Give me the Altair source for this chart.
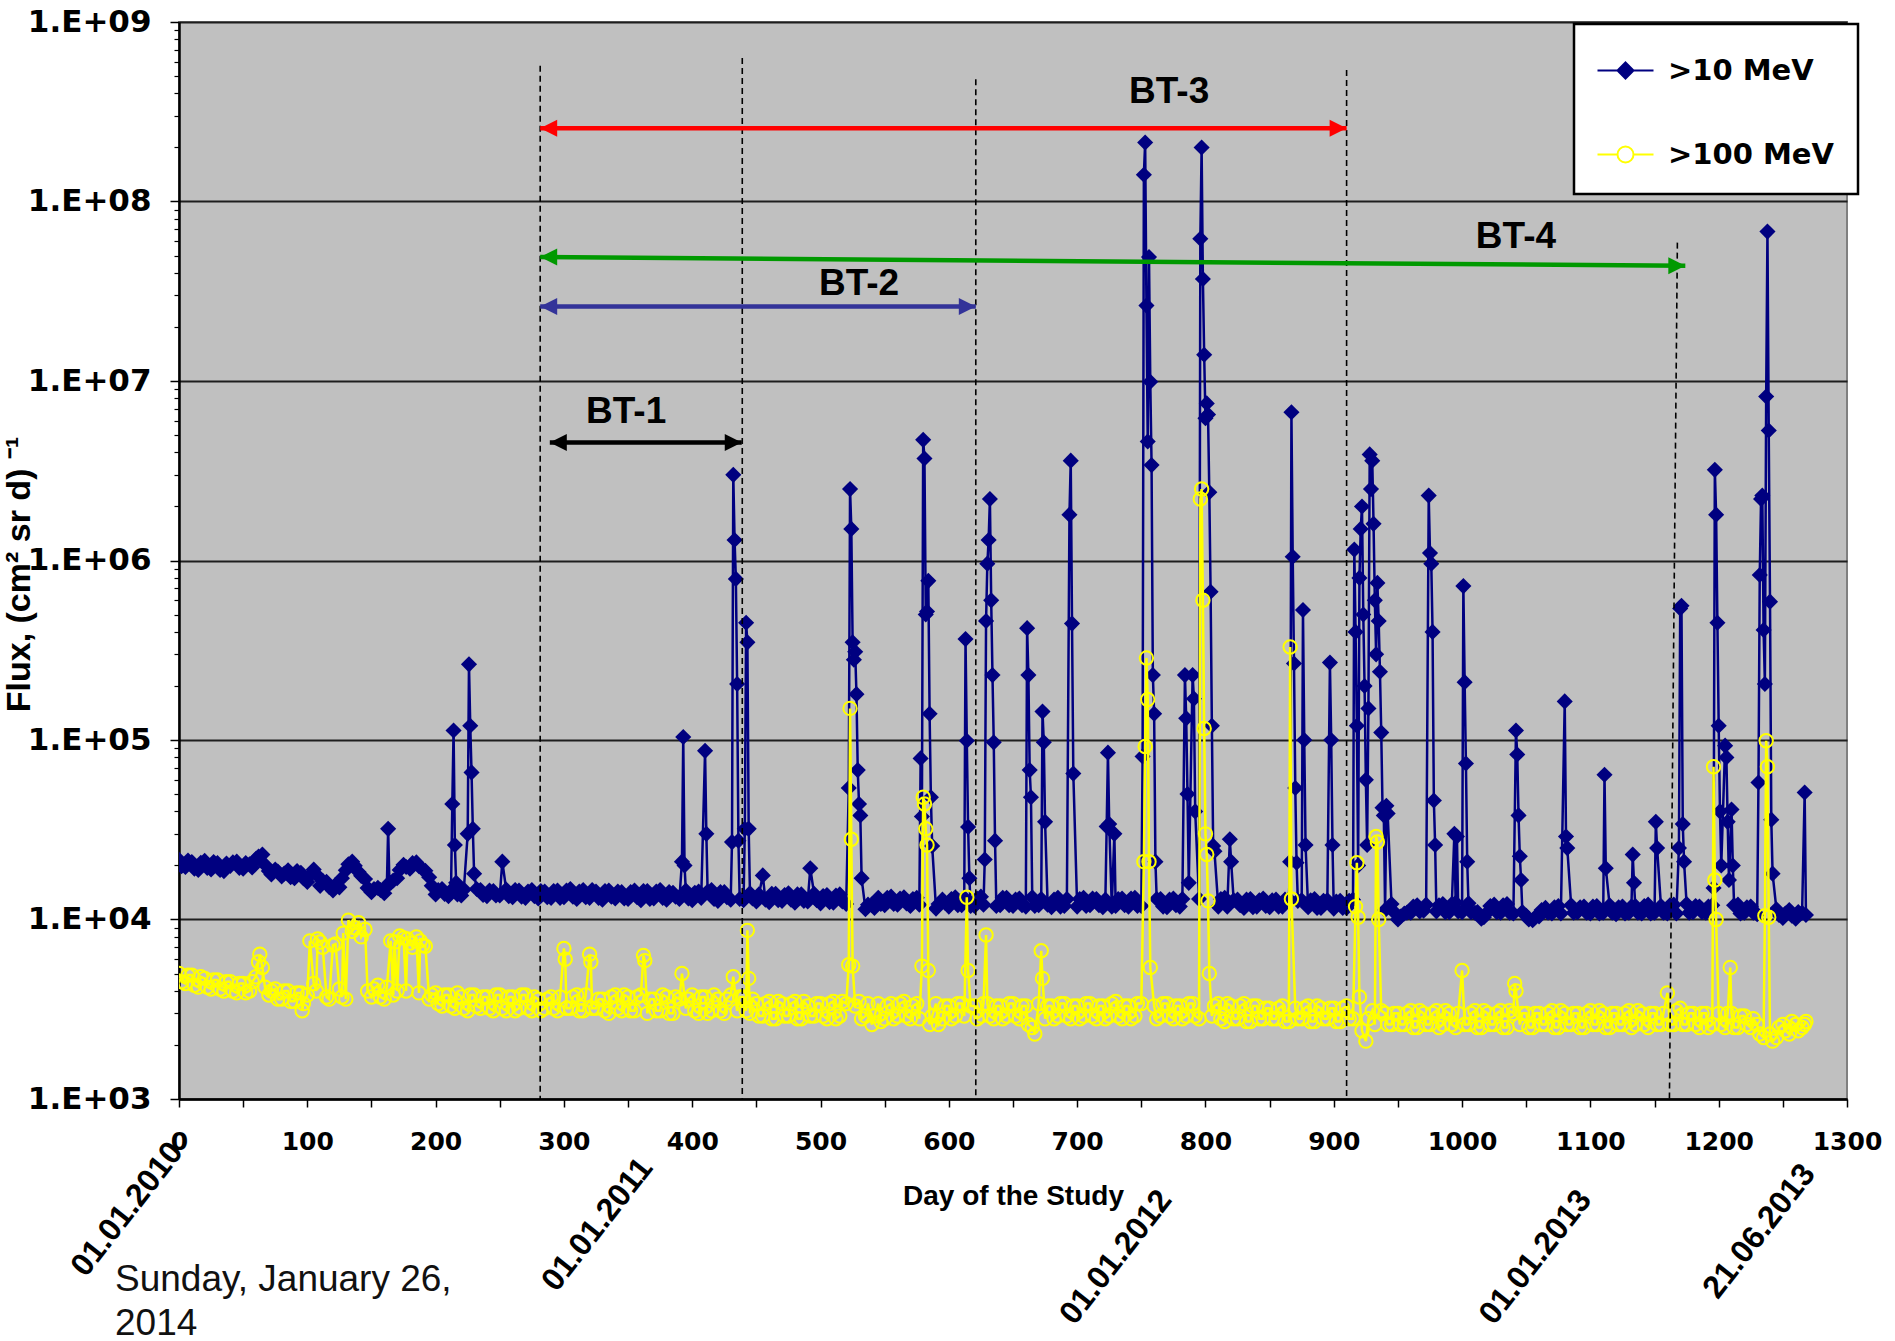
import altair as alt
import pandas as pd

# ---------------- data ----------------
SERIES = [">10 MeV", ">100 MeV"]

# quiet-time flux (thousands) read on two interleaved day grids:
# days 0, 5, ..., 1265  and  days 2, 7, ..., 1267
BASE_DAYS = list(range(0, 1270, 5))
MID_DAYS = list(range(2, 1270, 5))
base_10 = [
    21.5, 19.6, 20.9, 18.9, 21.2, 19.0, 20.6, 18.6, 19.9, 21.0,
    19.2, 20.3, 21.8, 23.0, 18.6, 19.0, 17.4, 18.8, 17.0, 18.2,
    16.2, 19.0, 15.4, 16.2, 14.5, 15.1, 18.8, 21.0, 18.4, 16.8,
    14.2, 15.0, 14.0, 16.0, 17.0, 20.2, 19.2, 20.8, 19.0, 17.2,
    13.8, 14.8, 13.5, 14.6, 13.6, 15.0, 13.4, 14.6, 13.5, 14.4,
    13.6, 14.7, 13.3, 14.5, 13.2, 14.6, 13.1, 14.3, 13.2, 14.5,
    13.3, 14.8, 13.0, 14.6, 13.2, 14.3, 12.9, 14.5, 13.1, 14.2,
    13.0, 14.5, 12.8, 14.4, 13.1, 14.6, 12.9, 14.1, 13.0, 14.5,
    12.8, 14.3, 13.0, 14.6, 12.7, 14.2, 12.9, 14.4, 12.8, 14.0,
    12.6, 14.1, 12.5, 13.9, 12.7, 14.0, 12.4, 13.8, 12.6, 13.9,
    12.3, 13.7, 12.4, 13.8, 12.2, 13.5, 12.0, 11.4, 12.1, 13.2,
    12.0, 13.4, 12.1, 13.3, 11.9, 13.2, 12.0, 11.3, 11.5, 12.9,
    11.8, 13.3, 12.0, 13.1, 11.9, 13.4, 11.8, 13.0, 12.0, 13.2,
    11.9, 13.1, 11.8, 13.3, 12.0, 13.0, 11.7, 13.2, 11.9, 13.1,
    11.8, 13.2, 12.0, 13.0, 11.7, 13.3, 11.9, 13.1, 11.8, 13.2,
    11.9, 11.6, 11.8, 13.0, 11.7, 13.1, 11.8, 13.2, 11.9, 13.0,
    11.7, 13.1, 11.8, 13.2, 11.9, 12.9, 11.6, 13.0, 11.8, 13.1,
    11.7, 12.9, 11.8, 13.0, 11.6, 12.8, 11.7, 13.0, 11.6, 12.8,
    11.5, 12.7, 11.6, 12.9, 11.4, 12.6, 11.5, 12.4, 11.3, 12.2,
    10.0, 10.8, 10.9, 12.0, 11.2, 12.3, 11.1, 12.2, 11.0, 12.4,
    11.0, 12.3, 10.9, 10.1, 11.0, 12.1, 10.9, 12.2, 10.8, 12.0,
    10.5, 9.9, 10.4, 11.6, 10.8, 11.9, 10.9, 12.0, 11.0, 11.8,
    10.8, 11.9, 10.9, 12.0, 10.7, 11.8, 10.9, 11.9, 10.8, 12.1,
    10.9, 11.9, 10.8, 12.1, 10.9, 12.2, 11.0, 11.8, 10.9, 12.0,
    10.8, 11.9, 11.0, 12.1, 10.9, 11.8, 10.7, 11.6, 10.8, 11.4,
    10.2, 11.3, 10.1, 10.9,
]
mid_10 = [
    19.8, 21.3, 19.2, 20.7, 19.4, 20.9, 18.9, 20.5, 20.8, 19.4,
    20.6, 19.5, 22.4, 20.2, 17.8, 18.5, 18.0, 17.2, 18.6, 17.0,
    17.6, 17.8, 16.4, 15.2, 15.6, 17.0, 20.3, 19.9, 17.5, 15.0,
    14.8, 14.6, 15.4, 16.5, 18.9, 19.6, 20.6, 19.8, 18.7, 15.4,
    14.6, 13.9, 14.5, 13.8, 14.7, 13.9, 14.8, 13.7, 14.5, 13.6,
    14.4, 13.5, 14.6, 13.4, 14.3, 13.5, 14.4, 13.3, 14.4, 13.2,
    14.5, 13.4, 14.3, 13.3, 14.6, 13.2, 14.4, 13.4, 14.3, 13.1,
    14.2, 13.3, 14.4, 13.0, 14.3, 13.2, 14.2, 13.4, 14.4, 13.1,
    14.1, 13.2, 14.3, 13.0, 14.2, 13.3, 14.1, 13.0, 14.3, 13.1,
    13.8, 12.9, 13.9, 12.8, 13.7, 12.9, 13.8, 12.7, 13.6, 12.8,
    13.5, 12.5, 13.6, 12.6, 13.4, 12.4, 13.2, 12.1, 11.6, 12.2,
    13.2, 12.2, 13.1, 12.3, 13.0, 12.1, 12.9, 11.9, 12.2, 12.4,
    13.0, 12.0, 13.2, 11.9, 13.1, 12.1, 13.0, 11.9, 13.2, 12.0,
    12.9, 12.0, 13.1, 11.9, 13.0, 12.1, 12.9, 11.8, 13.0, 12.0,
    13.0, 11.9, 13.1, 12.0, 12.9, 11.8, 13.0, 12.0, 13.1, 11.9,
    12.7, 12.0, 13.0, 11.8, 12.9, 12.0, 13.0, 11.9, 12.8, 12.0,
    12.9, 11.9, 13.0, 11.8, 12.8, 12.0, 12.9, 11.7, 12.8, 11.9,
    12.8, 11.8, 12.9, 11.7, 12.7, 11.9, 12.8, 11.6, 12.7, 11.8,
    12.6, 11.6, 12.7, 11.5, 12.5, 11.6, 12.3, 11.4, 12.0, 11.0,
    10.4, 10.9, 11.8, 11.1, 12.1, 11.2, 12.0, 11.0, 12.2, 11.1,
    12.0, 11.0, 11.0, 10.3, 11.9, 11.0, 12.0, 10.9, 11.8, 11.0,
    10.0, 10.3, 11.3, 10.9, 11.7, 10.8, 11.8, 10.9, 11.7, 10.9,
    11.8, 10.8, 11.9, 10.9, 11.7, 10.8, 11.8, 10.9, 11.9, 10.8,
    11.8, 10.9, 12.0, 10.8, 12.1, 10.9, 11.9, 11.0, 11.8, 10.9,
    11.8, 10.9, 12.0, 10.8, 11.7, 10.9, 11.5, 10.7, 11.2, 10.6,
    10.8, 10.5, 11.0, 10.4,
]
base_100 = [
    5.0, 4.4, 4.9, 4.2, 4.7, 4.1, 4.6, 4.0, 4.5, 3.9,
    4.4, 4.0, 4.8, 5.4, 3.8, 4.1, 3.6, 4.0, 3.5, 3.9,
    3.8, 4.4, 7.5, 3.7, 7.2, 4.1, 3.6, 8.6, 9.6, 8.8,
    3.7, 4.3, 3.6, 7.6, 4.0, 7.9, 7.4, 8.0, 7.2, 3.6,
    3.9, 3.3, 3.8, 3.2, 3.7, 3.1, 3.8, 3.2, 3.7, 3.1,
    3.8, 3.1, 3.7, 3.2, 3.8, 3.1, 3.6, 3.2, 3.7, 3.1,
    3.6, 3.2, 3.8, 3.1, 3.7, 3.2, 3.6, 3.0, 3.8, 3.1,
    3.7, 3.1, 3.8, 3.0, 3.6, 3.1, 3.7, 3.0, 3.6, 3.2,
    3.8, 3.0, 3.7, 3.1, 3.6, 3.0, 3.8, 3.1, 3.7, 3.0,
    3.4, 2.9, 3.5, 2.8, 3.4, 2.9, 3.5, 2.8, 3.3, 2.9,
    3.4, 2.8, 3.5, 2.9, 3.4, 2.8, 3.5, 2.9, 2.6, 3.4,
    2.8, 3.4, 2.9, 3.5, 2.8, 3.4, 2.9, 2.6, 3.4, 2.8,
    3.3, 2.9, 3.4, 2.8, 3.3, 2.9, 3.4, 2.8, 3.3, 2.9,
    3.4, 2.8, 3.3, 2.5, 3.4, 2.8, 3.3, 2.9, 3.4, 2.8,
    3.3, 2.9, 3.4, 2.8, 3.3, 2.9, 3.5, 2.8, 3.3, 2.9,
    3.4, 2.8, 3.3, 2.9, 3.4, 2.8, 3.3, 2.9, 3.4, 2.8,
    3.3, 2.9, 3.4, 2.7, 3.3, 2.8, 3.4, 2.7, 3.3, 2.8,
    3.2, 2.8, 3.3, 2.7, 3.2, 2.8, 3.3, 2.7, 3.2, 2.8,
    3.2, 2.7, 3.3, 2.8, 2.6, 2.2, 3.1, 2.6, 3.0, 2.6,
    3.0, 2.6, 3.1, 2.5, 3.0, 2.6, 3.1, 2.6, 3.0, 2.5,
    3.0, 2.6, 3.1, 2.5, 3.0, 2.6, 3.1, 2.5, 3.0, 2.6,
    3.0, 2.5, 3.0, 2.6, 3.1, 2.5, 3.0, 2.6, 3.0, 2.5,
    3.1, 2.6, 3.0, 2.5, 3.0, 2.6, 3.1, 2.6, 3.0, 2.5,
    3.0, 2.6, 3.1, 2.6, 3.2, 2.6, 3.0, 2.5, 3.0, 2.6,
    3.0, 2.5, 3.0, 2.5, 2.9, 2.5, 2.6, 2.2, 2.3, 2.4,
    2.6, 2.3, 2.6, 2.5,
]
mid_100 = [
    4.5, 4.9, 4.3, 4.8, 4.2, 4.6, 4.1, 4.5, 4.0, 4.4,
    3.9, 4.5, 5.8, 4.2, 4.0, 3.6, 4.0, 3.5, 3.9, 3.4,
    7.7, 4.0, 7.9, 4.2, 7.3, 3.7, 9.2, 4.1, 8.5, 4.0,
    4.1, 3.7, 4.2, 3.8, 7.3, 4.0, 7.7, 3.9, 7.5, 3.8,
    3.4, 3.8, 3.3, 3.9, 3.2, 3.8, 3.3, 3.7, 3.2, 3.8,
    3.2, 3.7, 3.1, 3.8, 3.2, 3.7, 3.1, 3.6, 3.2, 3.7,
    3.2, 3.7, 3.1, 3.8, 3.2, 3.6, 3.1, 3.7, 3.2, 3.8,
    3.1, 3.7, 3.2, 3.6, 3.1, 3.8, 3.0, 3.7, 3.1, 3.6,
    3.1, 3.7, 3.0, 3.8, 3.1, 3.6, 3.0, 3.7, 3.1, 3.6,
    2.9, 3.4, 2.8, 3.5, 2.9, 3.4, 2.8, 3.5, 2.9, 3.4,
    2.9, 3.4, 2.8, 3.5, 2.9, 3.3, 2.8, 3.4, 2.9, 2.7,
    3.3, 2.8, 3.4, 2.9, 3.3, 2.8, 3.4, 2.9, 2.6, 3.3,
    2.8, 3.4, 2.9, 3.3, 2.8, 3.4, 2.9, 3.3, 2.8, 3.4,
    2.9, 3.3, 2.6, 3.2, 2.9, 3.3, 2.8, 3.4, 2.9, 3.3,
    2.8, 3.4, 2.9, 3.3, 2.8, 3.4, 2.9, 3.3, 2.8, 3.4,
    2.9, 3.3, 2.8, 3.4, 2.9, 3.3, 2.8, 3.4, 2.9, 3.3,
    2.8, 3.3, 2.8, 3.4, 2.8, 3.3, 2.7, 3.3, 2.8, 3.2,
    2.8, 3.2, 2.7, 3.3, 2.8, 3.2, 2.7, 3.3, 2.8, 3.2,
    2.7, 3.2, 2.8, 3.1, 2.4, 2.8, 2.6, 3.1, 2.6, 3.0,
    2.6, 3.0, 2.5, 3.1, 2.6, 3.0, 2.5, 3.1, 2.6, 3.0,
    2.6, 3.0, 2.5, 3.1, 2.6, 3.0, 2.5, 3.1, 2.6, 3.0,
    2.5, 3.0, 2.6, 3.0, 2.5, 3.1, 2.6, 3.0, 2.5, 3.0,
    2.6, 3.1, 2.5, 3.0, 2.6, 3.0, 2.5, 3.1, 2.6, 3.0,
    2.6, 3.0, 2.6, 3.1, 2.6, 3.0, 2.6, 3.0, 2.5, 3.0,
    2.6, 3.0, 2.5, 2.9, 2.6, 2.8, 2.3, 2.5, 2.2, 2.5,
    2.4, 2.7, 2.4, 2.6,
]

# event days (solar particle events), absolute flux
ev10_days = [
    163, 164, 213, 214, 215, 216, 225, 226, 227, 228, 229, 230, 252,
    392, 393, 394, 410, 411, 431, 432, 433, 434, 435, 436, 441, 442, 443, 444, 455, 492,
    522, 523, 524, 525, 526, 527, 528, 529, 530, 531, 532,
    578, 579, 580, 581, 582, 583, 584, 585, 586, 587,
    613, 614, 615, 616, 628, 629, 630, 631, 632, 633, 634, 635, 636,
    661, 662, 663, 664, 673, 674, 675, 694, 695, 696, 697,
    723, 724, 725, 729,
    751, 752, 753, 754, 755, 756, 757, 758, 759, 760, 761,
    784, 785, 786, 787, 790, 791, 792,
    796, 797, 798, 799, 800, 801, 802, 803, 804, 805, 806, 807,
    819, 820, 866, 867, 868, 869, 870, 871, 876, 877, 878, 897, 898, 899,
    916, 917, 918, 919, 920, 921, 922, 923, 924, 925, 926, 927, 928, 929, 930,
    931, 932, 933, 934, 935, 936, 937, 938, 939, 941, 942,
    974, 975, 976, 977, 978, 979, 994, 996, 1001, 1002, 1003, 1004,
    1042, 1043, 1044, 1045, 1046, 1080, 1081, 1082, 1111, 1112, 1133, 1134, 1151, 1152,
    1169, 1170, 1171, 1172, 1173,
    1196, 1197, 1198, 1199, 1200, 1201, 1202, 1205, 1206, 1207, 1208, 1210, 1211,
    1231, 1232, 1233, 1234, 1235, 1236, 1237, 1238, 1239, 1240, 1241, 1242,
    1267, 1268,
]
ev10_vals = [
    32e3, 16e3, 44e3, 113e3, 26e3, 16e3, 30e3, 264e3, 120e3, 66e3, 32e3, 18e3, 21e3,
    21e3, 104e3, 20e3, 87e3, 30e3, 27e3, 3.0e6, 1.3e6, 790e3, 205e3, 27.5e3, 32e3, 450e3, 350e3, 32e3, 17.6e3, 19.3e3,
    54e3, 2.5e6, 1.5e6, 350e3, 280e3, 310e3, 180e3, 68e3, 44e3, 38e3, 17e3,
    79e3, 37.5e3, 4.7e6, 3.7e6, 500e3, 520e3, 770e3, 140e3, 48e3, 25.7e3,
    365e3, 99e3, 32.8e3, 17e3, 21.6e3, 460e3, 960e3, 1.3e6, 2.2e6, 600e3, 230e3, 97e3, 27.5e3,
    420e3, 230e3, 68e3, 48e3, 144e3, 97e3, 35e3, 1.8e6, 3.6e6, 445e3, 65e3,
    33e3, 85e3, 34e3, 30e3,
    81e3, 1.41e8, 2.13e8, 2.63e7, 4.6e6, 4.9e7, 9.9e6, 3.4e6, 230e3, 140e3, 21e3,
    230e3, 132e3, 50e3, 16e3, 230e3, 170e3, 40e3,
    6.2e7, 2.0e8, 3.7e7, 1.4e7, 6.2e6, 7.5e6, 6.5e6, 2.4e6, 670e3, 120e3, 25.7e3, 24e3,
    28e3, 21e3, 21e3, 6.7e6, 1.05e6, 267e3, 54e3, 20.7e3, 530e3, 100e3, 26e3, 270e3, 100e3, 26e3,
    1.15e6, 400e3, 120e3, 20e3, 800e3, 1.5e6, 2.0e6, 500e3, 200e3, 60e3, 26e3, 150e3, 3.9e6, 2.5e6, 3.6e6,
    1.6e6, 600e3, 300e3, 750e3, 460e3, 240e3, 110e3, 42e3, 38e3, 43e3, 39e3,
    2.3e6, 1.1e6, 960e3, 400e3, 46e3, 26e3, 30e3, 29e3, 720e3, 210e3, 74e3, 21e3,
    113e3, 83e3, 38e3, 22.5e3, 16.6e3, 164e3, 29e3, 25e3, 64e3, 19.3e3, 23e3, 16e3, 35e3, 25e3,
    25e3, 540e3, 560e3, 34e3, 21e3,
    15e3, 3.2e6, 1.8e6, 450e3, 120e3, 40e3, 20e3, 93e3, 80e3, 35e3, 16.6e3, 41e3, 20e3,
    58e3, 830e3, 2.2e6, 2.3e6, 410e3, 205e3, 8.2e6, 6.8e7, 5.3e6, 590e3, 36e3, 18e3,
    51e3, 10.6e3,
]
ev100_days = [
    63, 96, 102, 108, 112, 117, 128, 132, 137, 142, 168, 172, 178, 182, 188, 192,
    300, 301, 320, 321, 362, 363, 392, 432, 443, 444,
    522, 523, 524, 525, 579, 580, 581, 582, 583, 584,
    614, 615, 629, 667, 672, 673,
    752, 753, 754, 755, 756, 757,
    796, 797, 798, 799, 800, 801, 802, 803,
    866, 867, 917, 918, 919, 920, 925, 933, 934, 935,
    1000, 1041, 1042, 1160, 1196, 1197, 1198, 1209,
    1236, 1237, 1238, 1239, 1242, 1245, 1268,
]
ev100_vals = [
    6.4e3, 3.1e3, 7.6e3, 7.8e3, 7.0e3, 3.6e3, 8.4e3, 9.9e3, 9.0e3, 8.0e3, 7.5e3, 8.1e3, 7.8e3, 7.0e3, 7.6e3, 7.1e3,
    6.9e3, 6.0e3, 6.4e3, 5.8e3, 6.3e3, 5.9e3, 5.0e3, 4.8e3, 8.7e3, 4.7e3,
    5.6e3, 150e3, 28e3, 5.5e3, 5.5e3, 48e3, 44e3, 32e3, 26e3, 5.2e3,
    13.3e3, 5.2e3, 8.2e3, 2.3e3, 6.7e3, 4.7e3,
    21e3, 92e3, 286e3, 168e3, 21e3, 5.4e3,
    2.2e6, 2.5e6, 600e3, 116e3, 30e3, 23e3, 12.7e3, 5.0e3,
    330e3, 13e3, 11.8e3, 20.7e3, 10.3e3, 3.7e3, 2.1e3, 29e3, 27e3, 10e3,
    5.2e3, 4.4e3, 4.0e3, 3.9e3, 71e3, 16.6e3, 10e3, 5.4e3,
    10.5e3, 99e3, 71e3, 10.3e3, 2.1e3, 2.2e3, 2.7e3,
]

# BT period boundaries (dashed lines)
bound_day_top = [281.5, 439.0, 621.0, 910.0, 1167.8]
bound_day_bottom = [281.5, 439.0, 621.0, 910.0, 1161.6]
bound_top = [5.7e8, 6.3e8, 4.8e8, 5.4e8, 5.9e7]
bound_bottom = [1e3, 1e3, 1e3, 1e3, 1e3]

# BT arrows
bt_names = ["BT-1", "BT-2", "BT-3", "BT-4"]
bt_start = [289.0, 281.5, 281.5, 281.5]
bt_end = [438.6, 621.0, 910.0, 1174.0]
bt_y_start = [4.55e6, 2.6e7, 2.56e8, 4.91e7]
bt_y_end = [4.55e6, 2.6e7, 2.56e8, 4.38e7]
bt_colors = ["#000000", "#333399", "#FF0000", "#009900"]
bt_label_day = [348.5, 530.0, 771.7, 1042.0]
bt_label_y = [5.8e6, 3.01e7, 3.55e8, 5.5e7]

# calendar dates under the day axis
date_labels = ["01.01.2010", "01.01.2011", "01.01.2012", "01.01.2013", "21.06.2013"]
date_days = [-2.0, 364.0, 768.6, 1095.6, 1270.0]
date_px = [1124, 1140, 1172, 1172, 1146]

FOOTER = "Sunday, January 26,\n2014"

Y_MAJOR = [1e3, 1e4, 1e5, 1e6, 1e7, 1e8, 1e9]
Y_MINOR = [m * 10 ** e for e in range(3, 9) for m in range(2, 10)]
X_TICKS = list(range(0, 1350, 50))

# ---------------- tables ----------------
def series_table(base, mid, ev_days, ev_vals, name):
    d = dict(zip(BASE_DAYS, [v * 1000 for v in base]))
    d.update(zip(MID_DAYS, [v * 1000 for v in mid]))
    d.update(zip(ev_days, ev_vals))
    days = sorted(d)
    return pd.DataFrame({"day": days, "flux": [d[k] for k in days], "series": name})

df10 = series_table(base_10, mid_10, ev10_days, ev10_vals, SERIES[0])
df100 = series_table(base_100, mid_100, ev100_days, ev100_vals, SERIES[1])

bounds = pd.DataFrame({"x": bound_day_top, "x2": bound_day_bottom, "y": bound_top, "y2": bound_bottom})
arrows = pd.DataFrame({"name": bt_names, "x": bt_start, "x2": bt_end, "y": bt_y_start,
                       "y2": bt_y_end, "c": bt_colors, "lx": bt_label_day, "ly": bt_label_y})
LEFT_HEAD = "M0,0L2,-1L2,1Z"
RIGHT_HEAD = "M0,0L-2,-1L-2,1Z"
heads = pd.DataFrame({
    "x": bt_start + bt_end,
    "y": bt_y_start + bt_y_end,
    "c": bt_colors + bt_colors,
    "s": [LEFT_HEAD] * 4 + [RIGHT_HEAD] * 4,
})
dates = pd.DataFrame({"t": date_labels, "x": date_days, "py": date_px})
legend_df = pd.DataFrame({"series": SERIES, "day": [600, 600], "flux": [1e11, 1e11]})
footer_df = pd.DataFrame({"t": [FOOTER]})

# ---------------- scales / axes ----------------
xscale = alt.Scale(domain=[0, 1300], nice=False, zero=False)
yscale = alt.Scale(type="log", domain=[1e3, 1e9], nice=False)

x_axis = alt.Axis(
    values=X_TICKS,
    labelExpr="datum.value % 100 == 0 ? format(datum.value, 'd') : ''",
    grid=False, tickSize=8, tickWidth=1.5, tickColor="black",
    domainColor="black", domainWidth=2.5,
    labelFont="DejaVu Sans", labelFontWeight="bold", labelFontSize=25, labelColor="black",
    labelPadding=22, labelFlush=False, labelOverlap=False,
    title="Day of the Study", titleFont="Liberation Sans", titleFontWeight="bold",
    titleFontSize=28, titleColor="black", titleY=97, titleBaseline="middle",
)
y_axis = alt.Axis(
    values=Y_MAJOR,
    labelExpr="'1.E+0' + format(round(log(datum.value) / LN10), 'd')",
    grid=True, gridColor="#1e1e1e", gridWidth=2,
    tickSize=9, tickWidth=1.5, tickColor="black",
    domainColor="black", domainWidth=2.5,
    labelFont="DejaVu Sans", labelFontWeight="bold", labelFontSize=31, labelColor="black",
    labelPadding=19, labelFlush=False, labelOverlap=False,
    title="Flux, (cm² sr d) ⁻¹", titleFont="Liberation Sans", titleFontWeight="bold",
    titleFontSize=34, titleColor="black", titleAngle=270, titleX=-177, titleY=552,
    titleAlign="center", titleBaseline="top", orient="left",
)
y_minor_axis = alt.Axis(
    values=Y_MINOR, labels=False, grid=False, domain=False, tickSize=5, tickWidth=1.2,
    tickColor="black", title=None, orient="left",
)


def X(f):
    return alt.X(f"{f}:Q", scale=xscale, axis=x_axis)


def Y(f, ax=None):
    return alt.Y(f"{f}:Q", scale=yscale, axis=ax)


line10 = alt.Chart(df10).mark_line(color="#000080", strokeWidth=2.5, clip=True).encode(
    x=X("day"), y=Y("flux", y_axis), order="day:Q")
pts10 = alt.Chart(df10).mark_point(shape="diamond", filled=True, color="#000080",
                                   size=260, opacity=1, clip=True).encode(x=X("day"), y=Y("flux"))
line100 = alt.Chart(df100).mark_line(color="#FFFF00", strokeWidth=2.5, clip=True).encode(
    x=X("day"), y=Y("flux"), order="day:Q")
pts100 = alt.Chart(df100).mark_point(shape="circle", filled=False, color="#FFFF00", strokeWidth=2,
                                     size=180, opacity=1, clip=True).encode(
    x=X("day"), y=Y("flux", y_minor_axis))

dash = alt.Chart(bounds).mark_rule(color="black", strokeWidth=1.6, strokeDash=[6, 4]).encode(
    x=X("x"), x2="x2:Q", y=Y("y"), y2="y2:Q")
shafts = alt.Chart(arrows).mark_rule(strokeWidth=4.5).encode(
    x=X("x"), x2="x2:Q", y=Y("y"), y2="y2:Q", color=alt.Color("c:N", scale=None))
arrow_heads = alt.Chart(heads).mark_point(filled=True, size=289, opacity=1, strokeWidth=0).encode(
    x=X("x"), y=Y("y"), color=alt.Color("c:N", scale=None), shape=alt.Shape("s:N", scale=None))
bt_text = alt.Chart(arrows).mark_text(font="Liberation Sans", fontWeight="bold", fontSize=37,
                                      align="center", baseline="alphabetic", color="black").encode(
    x=X("lx"), y=Y("ly"), text="name:N")
date_text = alt.Chart(dates).mark_text(font="Liberation Sans", fontWeight="bold", fontSize=32,
                                       angle=308, align="right", baseline="middle", color="black").encode(
    x=X("x"), y=alt.Y("py:Q", scale=None, axis=None), text="t:N")
footer = alt.Chart(footer_df).mark_text(font="Liberation Sans", fontSize=37, lineBreak="\n",
                                        lineHeight=44, align="left", baseline="alphabetic",
                                        color="#111111").encode(
    x=alt.value(-64), y=alt.value(1269), text="t:N")

LEG = alt.Legend(
    title="\u00a0", titleFontSize=6, titlePadding=2,
    orient="none", legendX=1395, legendY=2, padding=24,
    symbolOffset=13, labelOffset=28, rowPadding=54,
    fillColor="white", strokeColor="black",
    labelFont="DejaVu Sans", labelFontWeight="bold", labelFontSize=29, labelColor="black",
    labelLimit=400, symbolStrokeWidth=2, symbolSize=256,
)
legend_layer = alt.Chart(legend_df).mark_point(size=256, strokeWidth=2, opacity=1, clip=True).encode(
    x=X("day"), y=Y("flux"),
    shape=alt.Shape("series:N", scale=alt.Scale(
        domain=SERIES,
        range=["M-3.5,0L3.5,0M0,-1L1,0L0,1L-1,0Z",
               "M-3.5,0L-1,0M1,0L3.5,0M-1,0A1,1 0 1,0 1,0A1,1 0 1,0 -1,0"]), legend=LEG),
    fill=alt.Fill("series:N", scale=alt.Scale(domain=SERIES, range=["#000080", "transparent"]), legend=LEG),
    stroke=alt.Stroke("series:N", scale=alt.Scale(domain=SERIES, range=["#000080", "#FFFF00"]), legend=LEG),
)

chart = alt.layer(
    line10, pts10, line100, pts100, dash, shafts, arrow_heads, bt_text, date_text, footer, legend_layer
).resolve_axis(y="independent").properties(
    width=1668, height=1077,
    autosize=alt.AutoSizeParams(type="none"),
    padding={"left": 179, "top": 22, "right": 48, "bottom": 242},
    background="white",
).configure_view(fill="#C0C0C0", stroke="#808080", strokeWidth=2).configure_legend(strokeWidth=2.5)

chart.save("out.html", embed_options={"renderer": "svg", "actions": False})
